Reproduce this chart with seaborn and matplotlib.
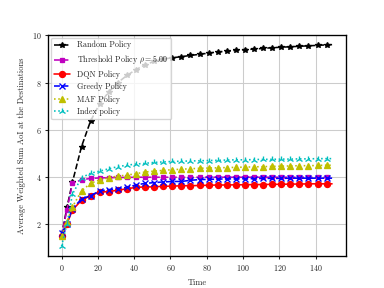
import matplotlib
matplotlib.use("Agg")
import matplotlib.pyplot as plt
import seaborn as sns

# time steps of the curves (markers on every point but the last)
times = [0, 3, 6, 11, 16, 21, 26, 31, 36, 41, 46, 51, 56, 61, 66, 71, 76, 81,
         86, 91, 96, 101, 106, 111, 116, 121, 126, 131, 136, 141, 146, 149]

random_policy = [1.5, 2.7, 3.77, 5.28, 6.37, 7.1, 7.6, 8.0, 8.3, 8.55, 8.75, 8.9, 9.0,
                 9.05, 9.1, 9.15, 9.2, 9.25, 9.3, 9.33, 9.37, 9.4, 9.42, 9.45, 9.48,
                 9.5, 9.52, 9.54, 9.56, 9.58, 9.6, 9.61]
threshold_policy = [1.5, 2.6, 3.72, 3.87, 3.93, 3.95, 3.96, 3.97, 3.97, 3.98, 3.98, 3.98,
                    3.98, 3.98, 3.98, 3.98, 3.98, 3.98, 3.98, 3.98, 3.98, 3.98, 3.98,
                    3.98, 3.98, 3.98, 3.98, 3.98, 3.98, 3.98, 3.98, 3.98]
dqn_policy = [1.5, 2.0, 2.59, 3.0, 3.2, 3.35, 3.37, 3.43, 3.49, 3.55, 3.57, 3.57, 3.6,
              3.6, 3.62, 3.62, 3.63, 3.64, 3.65, 3.65, 3.66, 3.66, 3.67, 3.67, 3.68,
              3.68, 3.69, 3.69, 3.7, 3.7, 3.7, 3.7]
greedy_policy = [1.6, 2.0, 2.65, 3.05, 3.2, 3.4, 3.45, 3.5, 3.55, 3.65, 3.72, 3.75, 3.78,
                 3.8, 3.8, 3.85, 3.88, 3.89, 3.9, 3.91, 3.91, 3.92, 3.92, 3.93, 3.93,
                 3.93, 3.94, 3.94, 3.94, 3.94, 3.94, 3.94]
maf_policy = [1.5, 2.1, 2.72, 3.4, 3.72, 3.87, 3.96, 4.03, 4.07, 4.13, 4.2, 4.24, 4.27,
              4.3, 4.32, 4.34, 4.36, 4.37, 4.38, 4.39, 4.4, 4.41, 4.42, 4.43, 4.44,
              4.45, 4.46, 4.47, 4.47, 4.48, 4.49, 4.49]
index_policy = [1.05, 2.0, 3.26, 3.96, 4.15, 4.24, 4.34, 4.43, 4.49, 4.54, 4.57, 4.61,
                4.63, 4.65, 4.66, 4.67, 4.68, 4.69, 4.7, 4.71, 4.72, 4.72, 4.73, 4.74,
                4.74, 4.75, 4.75, 4.76, 4.76, 4.77, 4.77, 4.77]

labels = ["Random Policy", r"Threshold Policy $\rho = 5.00$", "DQN Policy",
          "Greedy Policy", "MAF Policy", "Index policy"]

sns.set_style("whitegrid", {"axes.edgecolor": "black", "grid.color": "#cccccc",
                            "xtick.bottom": True, "ytick.left": True})
plt.rcParams["font.family"] = "serif"
plt.rcParams["font.serif"] = ["cmr10", "DejaVu Serif"]
plt.rcParams["mathtext.fontset"] = "cm"
plt.rcParams["axes.formatter.use_mathtext"] = True

fig, ax = plt.subplots(figsize=(4, 3), dpi=96)

series = [
    (random_policy, "k", "--", "*", 4.5),
    (threshold_policy, "m", "--", "s", 3),
    (dqn_policy, "r", "-", "o", 4.5),
    (greedy_policy, "b", "--", "x", 4),
    (maf_policy, "y", ":", "^", 4.5),
    (index_policy, "c", ":", "2", 5),
]
marks = list(range(len(times) - 1))
for (vals, col, ls, mk, ms), lab in zip(series, labels):
    sns.lineplot(x=times, y=vals, ax=ax, color=col, linestyle=ls, marker=mk,
                 markersize=ms, markeredgecolor=col, markeredgewidth=1,
                 markevery=marks, linewidth=1.2, label=lab)

ax.set_xlabel("Time", fontsize=6.3)
ax.set_ylabel("Average Weighted Sum AoI at the Destinations", fontsize=6.3)
ax.set_xticks(range(0, 141, 20))
ax.set_yticks([2, 4, 6, 8, 10])
ax.tick_params(labelsize=6, length=2, width=0.8, pad=3)
ax.legend(loc="upper left", fontsize=6, borderaxespad=0.4)
for s in ax.spines.values():
    s.set_linewidth(1)

fig.subplots_adjust(left=0.125, right=0.9, bottom=0.11, top=0.88)
fig.savefig("out.png", dpi=96)
